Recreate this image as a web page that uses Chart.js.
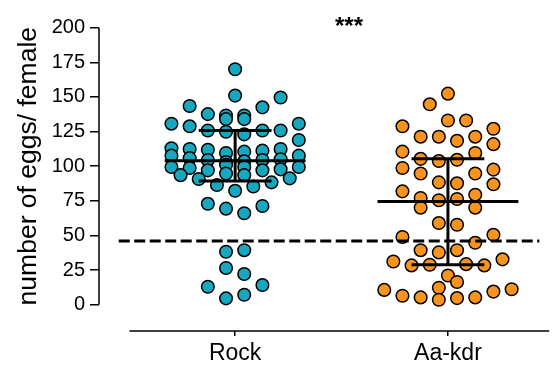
<!DOCTYPE html>
<html>
<head>
<meta charset="utf-8">
<script src="https://cdn.jsdelivr.net/npm/chart.js@4.4.1/dist/chart.umd.min.js"></script>
<style>
  html, body { margin: 0; padding: 0; background: #fff; }
  #wrap { width: 557px; height: 365px; }
</style>
</head>
<body>
<div id="wrap"><canvas id="eggChart"></canvas></div>
<script>
// categories and tick labels
const categories = ['Rock', 'Aa-kdr'];
const yTicks = [0, 25, 50, 75, 100, 125, 150, 175, 200];
const yTitle = 'number of eggs/ female';

// eggs per female, grouped in the rows the dots sit in (read left to right)
const rockRows = [
    [170],
    [151],
    [130.7, 143.5, 137.6, 136.6, 136.6, 142.5, 149.6, 130.7],
    [134, 134],
    [128.8, 125.8, 124.9, 123, 125.8, 125.8],
    [113, 112.4, 111.9, 109.5, 110.5, 111.2, 112.4, 118.9],
    [107.6, 105.8, 104.5, 103, 103.5, 104.5, 105, 107.6],
    [99.4, 98.7, 97, 101, 99.4, 97, 97.7, 99.4],
    [94.7, 93.5],
    [93.5, 90.7, 86.4, 82.2, 85.3, 88.3, 91.2],
    [72.8, 69.3, 66, 71.2],
    [38.2, 39.3],
    [26.4, 22.1],
    [12.9, 4.5, 7.1, 14.1]
];
const aaKdrRows = [
    [152.4],
    [144.7, 133, 133],
    [128.8, 121.3, 121.3, 118.3, 121.3, 127],
    [110.5, 105.3, 103.7, 104.6, 109.5, 115.9],
    [98.7, 94.7, 88.3, 87.6, 94.7, 97.5],
    [81.8, 77, 75.4, 76.3, 79.4, 86.9],
    [70, 58.9, 57.7, 70],
    [48.8, 39.3, 37.7, 39.3, 44.7, 50.4],
    [31.1, 28.3, 28.8, 21, 29.2, 28.3, 32.7],
    [12.2, 16.3],
    [10.6, 6.4, 5.2, 3.5, 4.7, 5.2, 9.4, 11.1]
];

// median and interquartile range per group
const medians = [104, 74.5];
const lowerQuartiles = [89.3, 28.8];
const upperQuartiles = [125.8, 105.3];

// dashed reference level
const thresholdValue = 46;

Chart.defaults.font.family = '"Liberation Sans", Arial, sans-serif';
Chart.defaults.color = '#000';

const colStep = 0.0855;      // horizontal spacing between dots, in category units
const medianHalf = 0.331;
const quartileHalf = 0.171;

// spreads each row symmetrically around its category
function layoutRows(rows, catIndex) {
    const pts = [];
    rows.forEach(row => {
        const n = row.length;
        row.forEach((v, i) => {
            pts.push({ x: catIndex + (i - (n - 1) / 2) * colStep, y: v });
        });
    });
    return pts;
}

function errorBarPoints(i) {
    const gap = { x: i, y: null };
    return [
        { x: i - medianHalf, y: medians[i] }, { x: i + medianHalf, y: medians[i] }, gap,
        { x: i - quartileHalf, y: upperQuartiles[i] }, { x: i + quartileHalf, y: upperQuartiles[i] }, gap,
        { x: i - quartileHalf, y: lowerQuartiles[i] }, { x: i + quartileHalf, y: lowerQuartiles[i] }, gap,
        { x: i, y: lowerQuartiles[i] }, { x: i, y: upperQuartiles[i] }
    ];
}

// axis lines offset like the original, the y title centred on the axis, and the stars
const axisDecor = {
    id: 'axisDecor',
    afterDraw(chart) {
        const { ctx, chartArea, scales: { x, y } } = chart;
        const top = y.getPixelForValue(yTicks[yTicks.length - 1]);
        const bottom = y.getPixelForValue(yTicks[0]);
        ctx.save();
        ctx.strokeStyle = '#000';
        ctx.lineWidth = 1.5;
        ctx.beginPath();
        ctx.moveTo(chartArea.left, top);
        ctx.lineTo(chartArea.left, bottom);
        ctx.moveTo(x.getPixelForValue(-0.4965), chartArea.bottom);
        ctx.lineTo(chartArea.right, chartArea.bottom);
        ctx.stroke();

        ctx.fillStyle = '#000';
        ctx.font = 'bold 24px "Liberation Sans", Arial, sans-serif';
        ctx.textAlign = 'center';
        ctx.textBaseline = 'alphabetic';
        ctx.fillText('***', 349, 34);

        ctx.font = '26.5px "Liberation Sans", Arial, sans-serif';
        ctx.textBaseline = 'middle';
        ctx.translate(29, (top + bottom) / 2);
        ctx.rotate(-Math.PI / 2);
        ctx.fillText(yTitle, 0, 0);
        ctx.restore();
    }
};

const ctx = document.getElementById('eggChart').getContext('2d');
new Chart(ctx, {
    type: 'scatter',
    data: {
        datasets: [
            {
                type: 'line', data: errorBarPoints(0), borderColor: '#000', borderWidth: 3,
                pointRadius: 0, spanGaps: false, order: 0
            },
            {
                type: 'line', data: errorBarPoints(1), borderColor: '#000', borderWidth: 3,
                pointRadius: 0, spanGaps: false, order: 0
            },
            {
                type: 'line',
                data: [{ x: -0.547, y: thresholdValue }, { x: 1.4296, y: thresholdValue }],
                borderColor: '#000', borderWidth: 3, borderDash: [11, 4.5],
                pointRadius: 0, order: 0
            },
            {
                label: categories[0], data: layoutRows(rockRows, 0),
                backgroundColor: '#17A7BF', borderColor: '#000', borderWidth: 1.5,
                pointRadius: 6.3, order: 1
            },
            {
                label: categories[1], data: layoutRows(aaKdrRows, 1),
                backgroundColor: '#F8941E', borderColor: '#000', borderWidth: 1.5,
                pointRadius: 6.3, order: 1
            }
        ]
    },
    options: {
        responsive: true,
        maintainAspectRatio: false,
        animation: false,
        events: [],
        layout: { padding: { top: 10, right: 0, bottom: 0, left: 0 } },
        plugins: { legend: { display: false }, tooltip: { enabled: false } },
        scales: {
            x: {
                type: 'linear',
                min: -0.6397,
                max: 1.4758,
                afterBuildTicks: s => { s.ticks = categories.map((c, i) => ({ value: i })); },
                afterFit: s => { s.height = 34; },
                ticks: {
                    callback: v => categories[v],
                    font: { size: 23 },
                    padding: 4,
                    maxRotation: 0
                },
                grid: { drawOnChartArea: false, drawTicks: true, tickLength: 5, color: '#000', lineWidth: 1.5 },
                border: { display: false }
            },
            y: {
                min: -19.08,
                max: 207.77,
                afterBuildTicks: s => { s.ticks = yTicks.map(v => ({ value: v })); },
                afterFit: s => { s.width = 99; },
                ticks: { font: { size: 20 }, padding: 5 },
                grid: { drawOnChartArea: false, drawTicks: true, tickLength: 9, color: '#000', lineWidth: 1.5 },
                border: { display: false }
            }
        }
    },
    plugins: [axisDecor]
});
</script>
</body>
</html>
